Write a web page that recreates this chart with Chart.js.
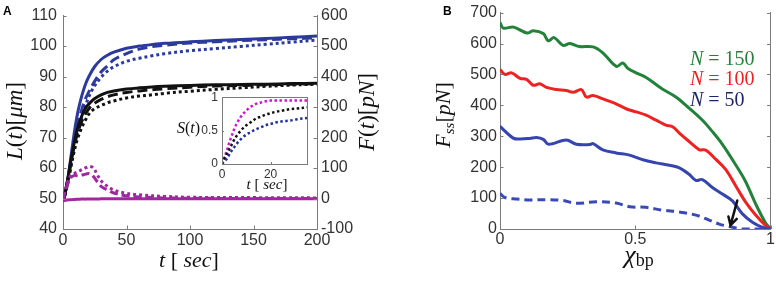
<!DOCTYPE html>
<html><head><meta charset="utf-8">
<script src="https://cdn.jsdelivr.net/npm/chart.js@4.4.1/dist/chart.umd.min.js"></script>
<style>
html,body{margin:0;padding:0;background:#fff;}
#wrap{position:relative;width:776px;height:285px;overflow:hidden;background:#fff;}
canvas{position:absolute;display:block;}
</style></head><body>
<div id="wrap">
<canvas id="cA" width="390" height="285" style="left:0;top:0"></canvas>
<canvas id="cIn" width="140" height="110" style="left:172px;top:86px"></canvas>
<canvas id="cB" width="386" height="285" style="left:390px;top:0"></canvas>
</div>
<script>
// ---------- Panel A data (t in sec, L in µm) ----------
const tA=[0,2,4,6,8,10,12,15,18,21,25,30,35,40,50,60,70,80,100,120,140,160,180,200];
const blueSolidL=[49,52.5,57,63,69,74.5,79,84,87.8,90.5,93.3,95.6,97,98,99.3,100,100.5,100.9,101.4,101.8,102.2,102.5,102.9,103.3];
const blueDashL=[49,52,56,61.5,66.5,71,75,79.5,83,85.5,88.5,91.5,93.5,95.5,97.5,99,99.8,100.3,101,101.4,101.8,102.1,102.4,102.7];
const blueDotL=[49,51.8,55.5,60,65,69,72.5,77,80.8,84,87,89.8,91.8,93.2,95,96,96.8,97.5,98.5,99.2,99.9,100.6,101.3,102];
const blackSolidL=[49,52.5,57,62,66.5,70.5,73.8,77.3,79.8,81.3,82.8,84,84.8,85.3,85.9,86.3,86.6,86.8,87.1,87.3,87.4,87.5,87.7,87.8];
const blackDashL=[49,52.2,56.5,61.2,65.5,69.2,72.2,75.5,78,79.8,81.3,82.5,83.4,84,84.8,85.3,85.7,86,86.5,86.9,87.1,87.3,87.5,87.7];
const blackDotL=[49,52,55.8,60,64,67.5,70.3,73.5,76,78,79.5,80.5,81.4,82,83,83.6,84,84.5,85.2,85.8,86.3,86.8,87.2,87.5];
// force F(t) in pN (right axis)
const tMag=[0,3,6,9,12,15,18,21,24,27,30,35,40,50,60,80,100,150,200];
const magDotF=[-7,45,75,83,88,95,101,105,100,78,58,40,28,17,12,7,4,3,2];
const magDashF=[-7,40,68,76,74,77,80,82,72,55,40,28,18,9,5,2,1,0,0];
const magSolidF=[-7,-5,-4,-3,-2.5,-2,-2,-1.5,-1.5,-1.5,-1,-1,-1,-1,-1,-1,-1,-1,-1];
// inset S(t)
const tS=[0,1,2,3,4,5,6,8,10,12,14,16,18,20,22,25,28,31,35];
const magS=[0,0.1,0.2,0.32,0.42,0.52,0.6,0.72,0.8,0.86,0.9,0.92,0.94,0.95,0.95,0.95,0.95,0.95,0.95];
const blackS=[0,0.08,0.15,0.22,0.29,0.36,0.42,0.51,0.58,0.63,0.68,0.71,0.74,0.76,0.78,0.8,0.82,0.83,0.85];
const blueS=[0,0.04,0.08,0.14,0.2,0.25,0.3,0.38,0.44,0.48,0.52,0.55,0.58,0.6,0.62,0.64,0.65,0.67,0.69];
// ---------- Panel B data (chi_bp vs F_ss in pN) ----------
const xGreen=[0,0.012,0.05,0.1,0.123,0.16,0.178,0.2,0.233,0.258,0.294,0.344,0.38,0.43,0.454,0.472,0.503,0.54,0.6,0.65,0.7,0.75,0.785,0.822,0.871,0.908,0.945,0.98,1];
const fGreen=[668,650,653,634,641,632,609,619,594,600,590,589,570,526,537,520,505,490,453,427,390,350,315,274,208,153,81,22,0];
const xRed=[0,0.018,0.043,0.074,0.098,0.123,0.147,0.172,0.209,0.245,0.27,0.301,0.319,0.344,0.38,0.429,0.466,0.503,0.54,0.577,0.613,0.638,0.663,0.699,0.736,0.761,0.798,0.834,0.871,0.908,0.945,0.982,1];
const fRed=[516,500,505,487,484,465,470,458,451,448,442,451,427,432,421,405,389,379,368,352,336,331,310,283,257,255,225,193,140,87,45,11,0];
const xBlue=[0,0.049,0.074,0.11,0.135,0.16,0.18,0.245,0.282,0.331,0.344,0.38,0.429,0.479,0.528,0.577,0.626,0.663,0.699,0.724,0.748,0.785,0.822,0.859,0.896,0.933,0.969,1];
const fBlue=[332,294,291,293,296,290,274,288,274,273,276,256,246,239,224,214,206,198,177,157,160,134,113,91,49,22,6,0];
const xBlueDash=[0,0.018,0.061,0.11,0.184,0.233,0.282,0.356,0.429,0.479,0.54,0.601,0.663,0.724,0.773,0.81,0.847,0.896,1];
const fBlueDash=[115,102,97,94,95,92,83,88,84,72,70,61,55,45,29,16,8,0,0];
const arrowX=[0.877,0.852];
const arrowF=[92,12];
const legendB=[['150','#23823a'],['100','#ee2020'],['50','#1d2566']];

// ---------- helpers ----------
const SANS='"Liberation Sans", Arial, sans-serif';
const SERIF='"Liberation Serif", "Times New Roman", serif';
const pts=(xs,ys)=>xs.map((x,i)=>({x:x,y:ys[i]}));
const fmt=v=>String(+v);
function mfont(p){return (p[2]?'italic ':'')+p[1]+'px '+SERIF;}
function mathText(ctx,parts,x,y,rot,align){
  ctx.save();ctx.translate(x,y);ctx.rotate(rot||0);ctx.textBaseline='alphabetic';ctx.textAlign='left';
  let w=0;parts.forEach(p=>{ctx.font=mfont(p);w+=ctx.measureText(p[0]).width;});
  let cx=align==='left'?0:(align==='right'?-w:-w/2);
  parts.forEach(p=>{ctx.font=mfont(p);ctx.fillText(p[0],cx,p[3]||0);cx+=ctx.measureText(p[0]).width;});
  ctx.restore();
}
function inTicks(chart,len,color){
  const ctx=chart.ctx,a=chart.chartArea;
  ctx.save();ctx.strokeStyle=color;ctx.lineWidth=1;
  for(const id in chart.scales){
    const s=chart.scales[id];
    for(const t of s.ticks){
      const p=Math.round(s.getPixelForValue(t.value))+0.5;
      ctx.beginPath();
      if(s.position==='left'){ctx.moveTo(a.left,p);ctx.lineTo(a.left+len,p);}
      else if(s.position==='right'){ctx.moveTo(a.right,p);ctx.lineTo(a.right-len,p);}
      else {ctx.moveTo(p,a.bottom);ctx.lineTo(p,a.bottom-len);}
      ctx.stroke();
    }
  }
  ctx.restore();
}
const AX='#7a7a7a', TK='#333';
function ds(data,color,dash,w,axis){
  return {data:data,borderColor:color,borderWidth:w||3,borderDash:dash||[],pointRadius:0,fill:false,tension:0.35,yAxisID:axis||'y'};
}
const tickFont={family:SANS,size:16};
const common={responsive:false,animation:false,events:[],plugins:{legend:{display:false},tooltip:{enabled:false}}};

// ---------- Panel A ----------
const BLUE='#2b3a9c', BLK='#111111', MAG='#a0289e';
new Chart(document.getElementById('cA'),{
  type:'line',
  data:{datasets:[
    ds(pts(tMag,magDotF),MAG,[3,3],3,'y2'),
    ds(pts(tMag,magDashF),MAG,[8,4],3,'y2'),
    ds(pts(tMag,magSolidF),MAG,[],3,'y2'),
    ds(pts(tA,blackDotL),BLK,[3,3]),
    ds(pts(tA,blackDashL),BLK,[10,5]),
    ds(pts(tA,blackSolidL),BLK,[]),
    ds(pts(tA,blueDotL),BLUE,[3,3]),
    ds(pts(tA,blueDashL),BLUE,[10,5]),
    ds(pts(tA,blueSolidL),BLUE,[])
  ]},
  options:Object.assign({},common,{
    layout:{padding:{top:10,left:0,right:0,bottom:0}},
    scales:{
      x:{type:'linear',min:0,max:200,ticks:{stepSize:50,font:tickFont,color:TK,padding:2,maxRotation:0,callback:fmt},grid:{display:false,drawTicks:false},border:{display:true,color:AX},afterFit:s=>{s.height=56;}},
      y:{type:'linear',position:'left',min:40,max:110,ticks:{stepSize:10,font:tickFont,color:TK,padding:6,callback:fmt},grid:{display:false,drawTicks:false},border:{display:true,color:AX},afterFit:s=>{s.width=63;}},
      y2:{type:'linear',position:'right',min:-100,max:600,ticks:{stepSize:100,font:tickFont,color:TK,padding:4,callback:fmt},grid:{display:false,drawTicks:false},border:{display:true,color:AX},afterFit:s=>{s.width=73;}}
    }
  }),
  plugins:[{id:'decoA',afterDraw(chart){
    const ctx=chart.ctx;
    inTicks(chart,3.5,AX);
    ctx.save();ctx.fillStyle='#111';
    mathText(ctx,[['L',23,1],['(',23,0],['t',23,1],[')',23,0],['[',23,0],['μm',23,1],[']',23,0]],22,121,-Math.PI/2);
    mathText(ctx,[['F',23,1],['(',23,0],['t',23,1],[')',23,0],['[',23,0],['pN',23,1],[']',23,0]],374,112,-Math.PI/2);
    mathText(ctx,[['t',22,1],[' [ ',22,0],['sec',22,1],[']',22,0]],189,267,0);
    ctx.font='bold 12px '+SANS;ctx.fillStyle='#000';ctx.textAlign='left';ctx.textBaseline='alphabetic';
    ctx.fillText('A',3,15);
    ctx.restore();
  }}]
});

// ---------- Inset ----------
new Chart(document.getElementById('cIn'),{
  type:'line',
  data:{datasets:[
    ds(pts(tS,blueS),'#1f2fa0',[2.5,2.5],2.5),
    ds(pts(tS,blackS),'#111',[2.5,2.5],2.5),
    ds(pts(tS,magS),'#d012d0',[2.5,2.5],2.5)
  ]},
  options:Object.assign({},common,{
    layout:{padding:{top:9,left:0,right:5,bottom:0}},
    scales:{
      x:{type:'linear',min:0,max:35,ticks:{stepSize:20,font:{family:SANS,size:12},color:TK,padding:3,maxRotation:0,callback:fmt},afterBuildTicks:s=>{s.ticks=s.ticks.filter(t=>t.value%20===0);},grid:{display:false,drawTicks:false},border:{display:false},afterFit:s=>{s.height=32;}},
      y:{type:'linear',min:0,max:1,ticks:{stepSize:0.5,font:{family:SANS,size:12},color:TK,padding:4,callback:fmt},grid:{display:false,drawTicks:false},border:{display:false},afterFit:s=>{s.width=50;}}
    }
  }),
  plugins:[{id:'decoIn',beforeDatasetsDraw(chart){
    const ctx=chart.ctx,a=chart.chartArea;
    ctx.save();ctx.fillStyle='#fff';ctx.fillRect(a.left,a.top,a.right-a.left,a.bottom-a.top);ctx.restore();
  },afterDraw(chart){
    const ctx=chart.ctx,a=chart.chartArea;
    ctx.save();ctx.strokeStyle=AX;ctx.lineWidth=1;
    ctx.strokeRect(Math.round(a.left)+0.5,Math.round(a.top)+0.5,Math.round(a.right-a.left),Math.round(a.bottom-a.top));
    ctx.restore();
    inTicks(chart,2,AX);
    ctx.save();ctx.fillStyle='#111';
    mathText(ctx,[['S',16,1],['(',16,0],['t',16,1],[')',16,0]],28,47,0,'right');
    mathText(ctx,[['t',15,1],[' [ ',15,0],['sec',15,1],[']',15,0]],95,103,0);
    ctx.restore();
  }}]
});

// ---------- Panel B ----------
new Chart(document.getElementById('cB'),{
  type:'line',
  data:{datasets:[
    ds(pts(xBlueDash,fBlueDash),'#3a49b8',[8,5],3),
    ds(pts(xBlue,fBlue),'#3645ad',[],3),
    ds(pts(xRed,fRed),'#ee2222',[],3),
    ds(pts(xGreen,fGreen),'#23823a',[],3)
  ]},
  options:Object.assign({},common,{
    layout:{padding:{top:10,left:0,right:0,bottom:0}},
    scales:{
      x:{type:'linear',min:0,max:1,ticks:{stepSize:0.5,font:tickFont,color:TK,padding:1,maxRotation:0,callback:fmt},grid:{display:false,drawTicks:false},border:{display:true,color:AX},afterFit:s=>{s.height=56;}},
      y:{type:'linear',position:'left',min:0,max:700,ticks:{stepSize:100,font:tickFont,color:TK,padding:3,callback:fmt},grid:{display:false,drawTicks:false},border:{display:true,color:AX},afterFit:s=>{s.width=110;}},
      y2:{type:'linear',position:'right',min:0,max:700,ticks:{stepSize:100,display:false},grid:{display:false,drawTicks:false},border:{display:true,color:AX},afterFit:s=>{s.width=4;}}
    }
  }),
  plugins:[{id:'decoB',afterDraw(chart){
    const ctx=chart.ctx,xs=chart.scales.x,ys=chart.scales.y;
    inTicks(chart,3.5,AX);
    // arrow
    const x1=xs.getPixelForValue(arrowX[0]),y1=ys.getPixelForValue(arrowF[0]);
    const x2=xs.getPixelForValue(arrowX[1]),y2=ys.getPixelForValue(arrowF[1]);
    const ang=Math.atan2(y2-y1,x2-x1),h=9;
    ctx.save();ctx.strokeStyle='#111';ctx.lineWidth=2.5;ctx.lineCap='round';
    ctx.beginPath();ctx.moveTo(x1,y1);ctx.lineTo(x2,y2);
    ctx.moveTo(x2-h*Math.cos(ang-0.5),y2-h*Math.sin(ang-0.5));ctx.lineTo(x2,y2);
    ctx.lineTo(x2-h*Math.cos(ang+0.5),y2-h*Math.sin(ang+0.5));ctx.stroke();
    ctx.restore();
    ctx.save();ctx.fillStyle='#111';
    mathText(ctx,[['F',22,1],['ss',15,1,4],['[',22,0],['pN',22,1],[']',22,0]],60,115,-Math.PI/2);
    mathText(ctx,[['χ',26,1],['bp',18,0,3]],249,263,0);
    const bl=[65,85,106];
    legendB.forEach((l,i)=>{ctx.fillStyle=l[1];mathText(ctx,[['N',20,1],[' = '+l[0],20,0]],300,bl[i],0,'left');});
    ctx.font='bold 12px '+SANS;ctx.fillStyle='#000';ctx.textAlign='left';
    ctx.fillText('B',53,15);
    ctx.restore();
  }}]
});
</script>
</body></html>
